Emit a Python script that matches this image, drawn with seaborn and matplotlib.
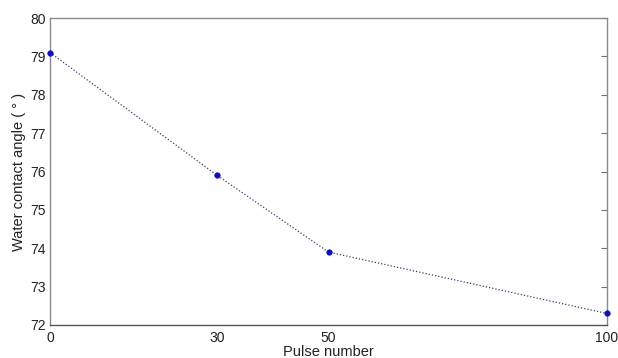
import matplotlib
matplotlib.use("Agg")
import matplotlib.pyplot as plt
import seaborn as sns
import pandas as pd

# Measured water contact angle versus laser pulse count
pulse_number = [0, 30, 50, 100]
pulse_labels = ["0", "30", "50", "100"]
contact_angle = [79.1, 75.9, 73.9, 72.3]
y_ticks = [72, 73, 74, 75, 76, 77, 78, 79, 80]

df = pd.DataFrame({"pulses": pulse_number, "angle": contact_angle})

sns.set_style("white")
plt.rcParams["font.family"] = ["Liberation Sans", "DejaVu Sans"]

fig = plt.figure(figsize=(6.18, 3.58), dpi=100)
ax = fig.add_axes([50 / 618, 1 - 325 / 358, 557 / 618, 307 / 358])

sns.lineplot(data=df, x="pulses", y="angle", ax=ax, color="#3c3c6a",
             linestyle=(0, (1, 1.6)), linewidth=0.9)
sns.scatterplot(data=df, x="pulses", y="angle", ax=ax, color="#0a0ad0",
                marker="o", s=16, edgecolor="#0a0ad0", linewidth=0.4,
                zorder=5, clip_on=False)

ax.set_xlim(0, 100)
ax.set_ylim(72, 80)
ax.set_xticks(pulse_number)
ax.set_xticklabels(pulse_labels)
ax.set_yticks(y_ticks)
ax.tick_params(axis="both", direction="in", length=4, color="#707070",
               labelsize=10, labelcolor="#222222", pad=3)
ax.tick_params(axis="y", right=True, labelright=False)
ax.tick_params(axis="x", length=3, pad=4)

for side, sp in ax.spines.items():
    sp.set_visible(True)
    sp.set_color("#8a8a8a")
    sp.set_linewidth(1.0)
ax.spines["bottom"].set_color("#555555")

ax.set_xlabel("Pulse number", fontsize=10.5, color="#222222", labelpad=0)
ax.set_ylabel("Water contact angle ( ° )", fontsize=10.5, color="#222222",
              labelpad=3)

fig.savefig("out.png", dpi=100, facecolor="white")
